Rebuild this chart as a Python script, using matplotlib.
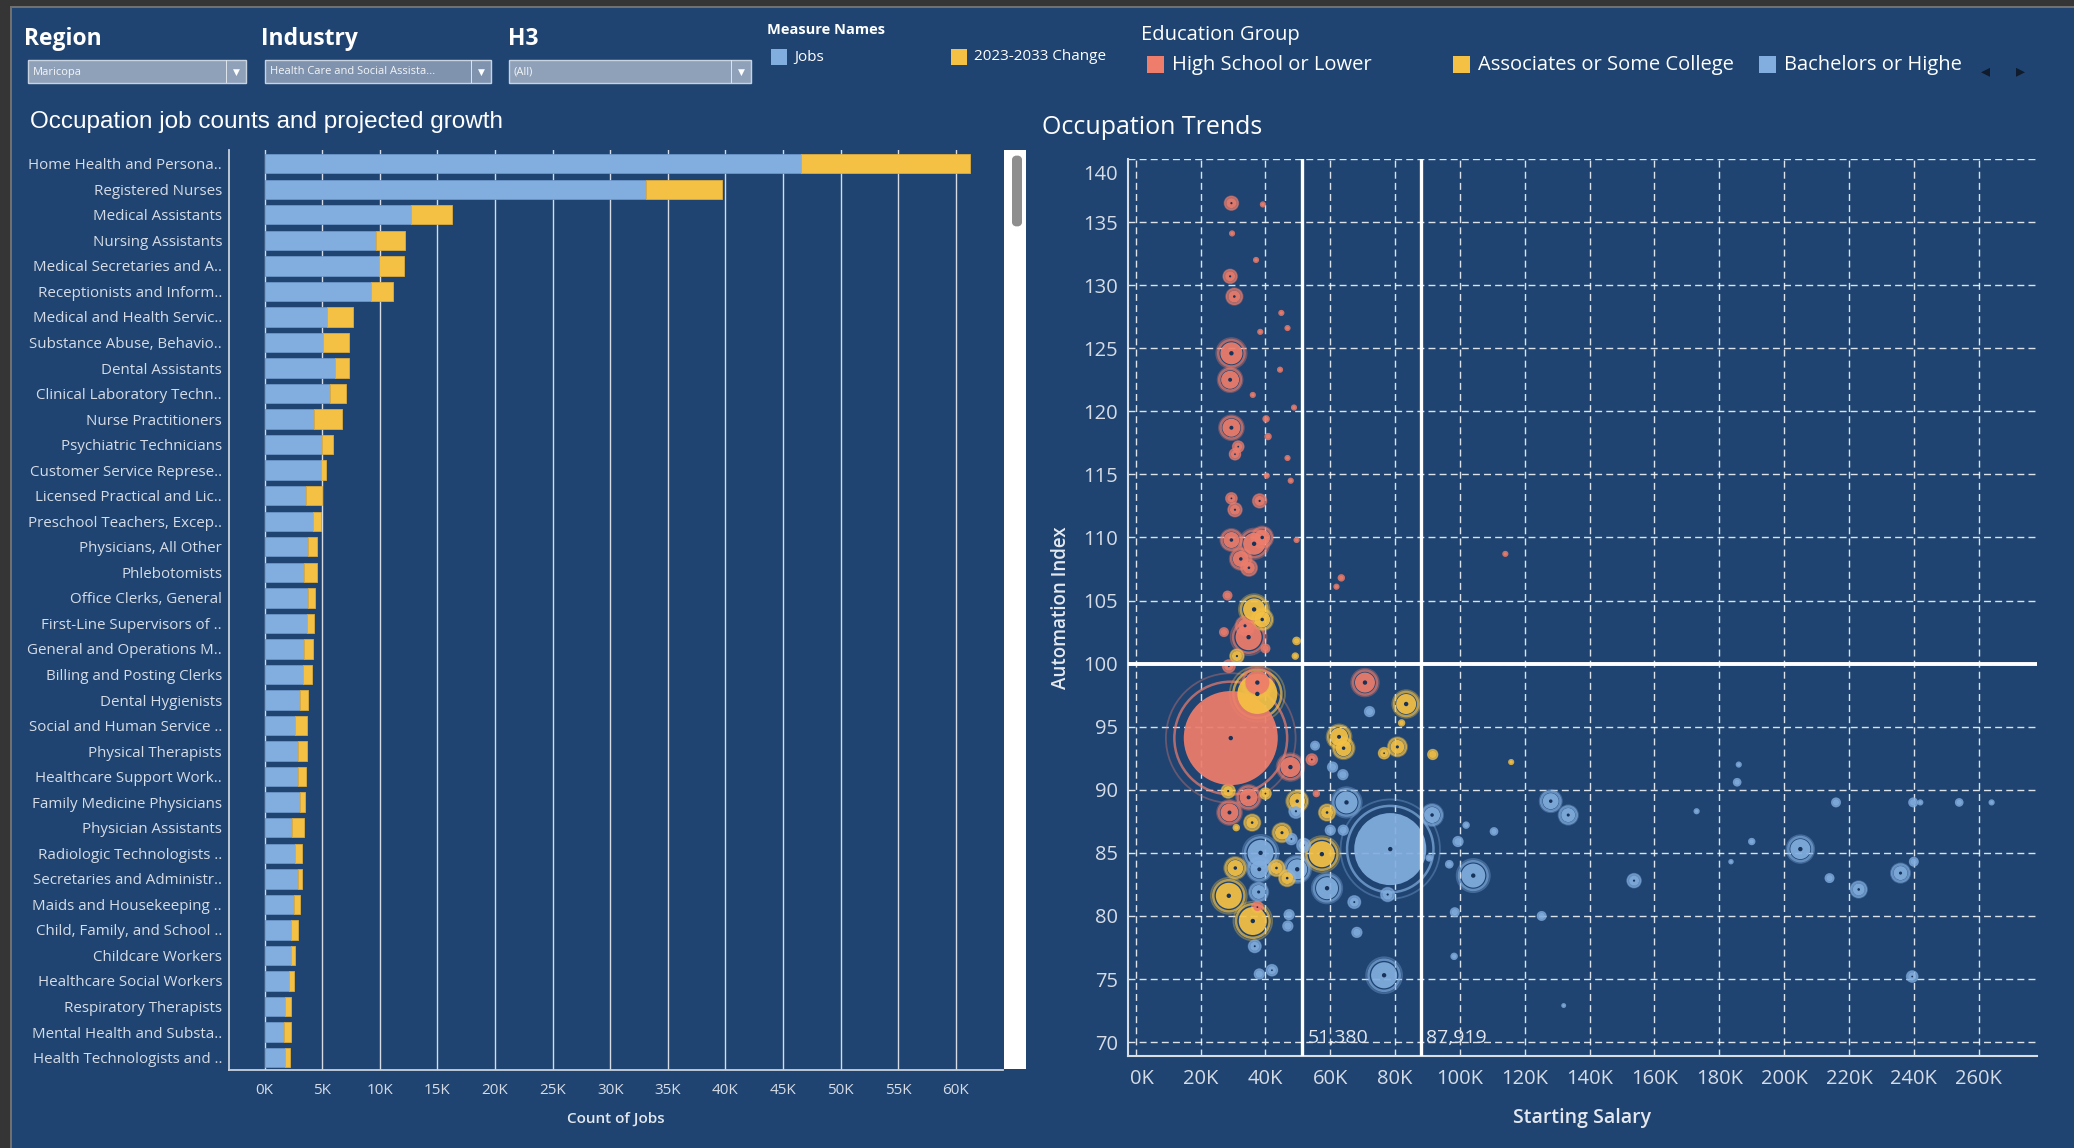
"""Occupation dashboard: job counts by occupation and automation vs salary."""

import matplotlib
matplotlib.use("Agg")
import matplotlib.pyplot as plt
import matplotlib.transforms as mtransforms
from matplotlib.patches import Rectangle, FancyBboxPatch
from matplotlib.ticker import FuncFormatter
import numpy as np


# ---------------------------------------------------------------------
# Data
# ---------------------------------------------------------------------
occupations = [
    "Home Health and Persona..", "Registered Nurses", "Medical Assistants",
    "Nursing Assistants", "Medical Secretaries and A..", "Receptionists and Inform..",
    "Medical and Health Servic..", "Substance Abuse, Behavio..", "Dental Assistants",
    "Clinical Laboratory Techn..", "Nurse Practitioners", "Psychiatric Technicians",
    "Customer Service Represe..", "Licensed Practical and Lic..", "Preschool Teachers, Excep..",
    "Physicians, All Other", "Phlebotomists", "Office Clerks, General",
    "First-Line Supervisors of ..", "General and Operations M..", "Billing and Posting Clerks",
    "Dental Hygienists", "Social and Human Service ..", "Physical Therapists",
    "Healthcare Support Work..", "Family Medicine Physicians", "Physician Assistants",
    "Radiologic Technologists ..", "Secretaries and Administr..", "Maids and Housekeeping ..",
    "Child, Family, and School ..", "Childcare Workers", "Healthcare Social Workers",
    "Respiratory Therapists", "Mental Health and Substa..", "Health Technologists and ..",
]
jobs = [
    46600, 33100, 12700, 9700, 9900, 9200, 5400, 5100, 6100, 5700, 4300, 5000,
    4900, 3600, 4200, 3800, 3400, 3800, 3700, 3400, 3300, 3100, 2600, 2900,
    2900, 3100, 2400, 2600, 2900, 2500, 2300, 2300, 2100, 1800, 1700, 1800,
]
change_2023_2033 = [
    14600, 6600, 3600, 2500, 2200, 1900, 2300, 2200, 1200, 1400, 2400, 900,
    400, 1400, 700, 700, 1100, 600, 600, 800, 800, 700, 1100, 800,
    700, 400, 1000, 600, 300, 600, 600, 300, 400, 500, 600, 400,
]

# Occupation Trends: starting salary, automation index, bubble size
hs_salary = [29300, 34800, 47700, 70700, 34800, 28900, 28700, 54300, 37500, 37500,
             29500, 29100, 30400, 29500, 29100, 29500, 31600, 30600, 29500, 38200,
             30600, 29500, 36500, 39000, 32400, 34900, 28300, 33700, 27200, 40000,
             55700, 39200, 29700, 37100, 44900, 46800, 38400, 44500, 36100, 48800,
             40200, 40800, 46800, 47800, 40400, 63400, 61900, 49600, 114000]
hs_index = [94.1, 102.1, 91.8, 98.5, 89.4, 88.2, 99.8, 92.4, 80.7, 98.5,
            136.5, 130.7, 129.1, 124.6, 122.5, 118.7, 117.2, 116.6, 113.1, 112.9,
            112.2, 109.8, 109.5, 110.0, 108.3, 107.6, 105.4, 103.0, 102.5, 101.2,
            89.7, 136.4, 134.1, 132.0, 127.8, 126.6, 126.3, 123.3, 121.3, 120.3,
            119.4, 118.0, 116.3, 114.5, 114.9, 106.8, 106.1, 109.8, 108.7]
hs_size = [47, 13, 10, 10, 9, 9, 4.5, 4, 4, 12,
           5, 5, 6, 11, 9, 9, 4, 4, 4, 5,
           5, 8, 11, 8, 8, 6, 3, 7, 3, 3,
           2, 1.5, 1.5, 1.5, 1.5, 1.5, 1.5, 1.5, 1.5, 1.5,
           2, 2, 1.5, 1.5, 1.5, 2, 1.5, 1.5, 1.5]

as_salary = [36500, 39000, 37500, 83400, 62700, 64100, 80700, 76600, 91600, 82000,
             115800, 49800, 28500, 40000, 59000, 35900, 45100, 57400, 30700, 43400,
             46700, 28700, 36100, 31200, 49600, 49200, 31000]
as_index = [104.3, 103.5, 97.6, 96.8, 94.2, 93.3, 93.4, 92.9, 92.8, 95.3,
            92.2, 89.1, 89.9, 89.7, 88.2, 87.4, 86.6, 84.9, 83.8, 83.8,
            83.0, 81.6, 79.6, 100.6, 101.8, 100.6, 87.0]
as_size = [11, 8, 20, 10, 9, 8, 7, 4, 3.5, 2,
           1.5, 8, 5, 4, 6, 6, 7, 13, 8, 6,
           6, 13, 14, 5, 2.5, 2, 2]

ba_salary = [78500, 38500, 65000, 91400, 104100, 59000, 76600, 128000, 133400, 205000,
             235900, 223000, 214000, 153700, 185500, 186000, 216000, 239800, 242000, 254000,
             264000, 240000, 239500, 190000, 173000, 183600, 125200, 110500, 99400, 96700,
             98400, 98200, 68200, 67400, 77700, 72100, 63900, 60700, 55300, 49400,
             49800, 37900, 38100, 47300, 46900, 36700, 38100, 42000, 48000, 51800,
             60000, 64000, 132000, 101900, 90500]
ba_index = [85.3, 85.0, 89.0, 88.0, 83.2, 82.2, 75.3, 89.1, 88.0, 85.3,
            83.4, 82.1, 83.0, 82.8, 90.6, 92.0, 89.0, 89.0, 89.0, 89.0,
            89.0, 84.3, 75.2, 85.9, 88.3, 84.3, 80.0, 86.7, 85.9, 84.1,
            80.3, 76.8, 78.7, 81.1, 81.7, 96.2, 91.2, 91.8, 93.5, 88.3,
            83.7, 81.9, 83.7, 80.1, 79.2, 77.6, 75.4, 75.7, 86.1, 85.6,
            86.8, 86.8, 72.9, 87.2, 84.6]
ba_size = [36, 13, 11, 8, 12, 11, 13, 8, 7, 10,
           7, 6, 3, 5, 2.5, 1.5, 3, 3, 1.5, 2.5,
           1.5, 3, 4, 2, 1.5, 1.2, 3, 2.5, 3.5, 2.5,
           3, 2, 3.5, 4.5, 5, 3.5, 3.5, 3.5, 3, 5,
           10, 7, 9, 3.5, 3.5, 4.5, 3.5, 4, 4, 5,
           3.5, 3.5, 1, 2, 2]

ref_salaries = [51380, 87919]
ref_index = 100


# ---------------------------------------------------------------------
# Style
# ---------------------------------------------------------------------
W, H = 2074, 1148
NAVY = "#1F4472"
BLUE = "#82AEDF"
GOLD = "#F5C144"
PINK = "#EE7D6B"
TICK = "#D6DCE5"
WHITE = "#FFFFFF"

plt.rcParams.update(
    {
        "font.family": ["Open Sans", "DejaVu Sans"],
        "font.size": 10,
        "axes.linewidth": 1.0,
    }
)


def fx(px):
    return px / W


def fy(py):
    return 1 - py / H


def px_rect(x0, y0, x1, y1, **kw):
    fig.add_artist(
        Rectangle((fx(x0), fy(y1)), fx(x1) - fx(x0), fy(y0) - fy(y1),
                  transform=fig.transFigure, **kw)
    )


fig = plt.figure(figsize=(W / 100, H / 100), dpi=100, facecolor=NAVY)

# dashboard frame
px_rect(0, 0, W, 6, facecolor="#353535", edgecolor="none")
px_rect(0, 6, W, 8, facecolor="#707070", edgecolor="none")
px_rect(0, 0, 10, H, facecolor="#353535", edgecolor="none")
px_rect(10, 6, 11.5, H, facecolor="#707070", edgecolor="none")


# ---------------------------------------------------------------------
# Filters and legends
# ---------------------------------------------------------------------
filters = [
    ("Region", 24, 28, 246, "Maricopa", "#8FA1B9"),
    ("Industry", 261, 265, 491, "Health Care and Social Assista...", "#7F93AF"),
    ("H3", 508, 509, 751, "(All)", "#8FA1B9"),
]
for title, tx, x0, x1, value, fill in filters:
    fig.text(fx(tx), fy(39), title, color=WHITE, fontsize=16.5,
             fontweight="bold", ha="left", va="center")
    px_rect(x0, 60, x1, 83, facecolor=fill, edgecolor="#C9D3DF", linewidth=1)
    px_rect(x1 - 20, 60, x1 - 19, 83, facecolor="#DDE3EA", edgecolor="none")
    fig.text(fx(x0 + 5), fy(72), value, color="#F2F5F8", fontsize=8,
             ha="left", va="center")
    fig.text(fx(x1 - 10), fy(72), "▼", color=WHITE, fontsize=6.5,
             ha="center", va="center")

fig.text(fx(767), fy(30), "Measure Names", color=WHITE, fontsize=10.5,
         fontweight="bold", ha="left", va="center")
px_rect(771, 49, 787, 65, facecolor=BLUE, edgecolor="none")
fig.text(fx(794), fy(57), "Jobs", color=WHITE, fontsize=11, ha="left", va="center")
px_rect(951, 49, 967, 65, facecolor=GOLD, edgecolor="none")
fig.text(fx(974), fy(57), "2023-2033 Change", color=WHITE, fontsize=11,
         ha="left", va="center")

fig.text(fx(1141), fy(35), "Education Group", color=WHITE, fontsize=14.5,
         ha="left", va="center")
edu_items = [
    ("High School or Lower", 1147, PINK),
    ("Associates or Some College", 1453, GOLD),
    ("Bachelors or Highe", 1759, BLUE),
]
for label, sx, col in edu_items:
    px_rect(sx, 56, sx + 17, 73, facecolor=col, edgecolor="none")
    fig.text(fx(sx + 25), fy(65), label, color=WHITE, fontsize=14.5,
             ha="left", va="center")
fig.text(fx(1985), fy(71), "◂", color="#101B2B", fontsize=13, ha="center", va="center")
fig.text(fx(2020), fy(71), "▸", color="#101B2B", fontsize=13, ha="center", va="center")

fig.text(fx(30), fy(122), "Occupation job counts and projected growth",
         color=WHITE, fontsize=17.5, family=["Liberation Sans", "DejaVu Sans"],
         ha="left", va="center")
fig.text(fx(1042), fy(127), "Occupation Trends", color=WHITE, fontsize=18,
         ha="left", va="center")


# ---------------------------------------------------------------------
# Bar chart
# ---------------------------------------------------------------------
axb = fig.add_axes([fx(229), fy(1069.6), fx(1003) - fx(229), fy(150) - fy(1069.6)])
axb.set_facecolor(NAVY)

rows = np.arange(len(occupations))
axb.barh(rows, jobs, height=0.76, color=BLUE, edgecolor="#6C96C9",
         linewidth=0.6, zorder=3)
axb.barh(rows, change_2023_2033, left=jobs, height=0.76, color=GOLD,
         edgecolor="#DCAB3E", linewidth=0.6, zorder=3)

axb.set_xlim(-3100, 64100)
axb.set_ylim(len(occupations) - 1 + 0.47, -0.536)
axb.set_xticks(np.arange(0, 60001, 5000))
axb.xaxis.set_major_formatter(FuncFormatter(lambda v, p: f"{v / 1000:.0f}K"))
axb.set_yticks(rows, occupations)
axb.grid(axis="x", color="#D5DCE6", linewidth=1.0, zorder=0)
axb.set_axisbelow(True)

for side in ["top", "right"]:
    axb.spines[side].set_visible(False)
for side in ["left", "bottom"]:
    axb.spines[side].set_color("#C9D1DC")
    axb.spines[side].set_linewidth(1.3)

axb.tick_params(axis="both", length=0, colors=TICK)
axb.tick_params(axis="y", labelsize=10.9, pad=5)
axb.tick_params(axis="x", labelsize=11, pad=9.5)

fig.text(fx(616), fy(1119), "Count of Jobs", color="#E4E8EE", fontsize=11,
         fontweight="semibold", ha="center", va="center")

# scrollbar
px_rect(1004, 150, 1026, 1069, facecolor="#FFFFFF", edgecolor="none")
fig.add_artist(
    FancyBboxPatch((fx(1012), fy(227)), fx(1022) - fx(1012), fy(155) - fy(227),
                   boxstyle="round,pad=0,rounding_size=0.004",
                   transform=fig.transFigure, facecolor="#8E8E8E",
                   edgecolor="none")
)


# ---------------------------------------------------------------------
# Scatter: Occupation Trends
# ---------------------------------------------------------------------
axs = fig.add_axes([fx(1128), fy(1056), fx(2037) - fx(1128), fy(159) - fy(1056)])
axs.set_facecolor(NAVY)
axs.set_xlim(-2400, 278000)
axs.set_ylim(68.9, 140)
axs.set_xticks(np.arange(0, 260001, 20000))
axs.set_yticks(np.arange(70, 141, 5))
axs.xaxis.set_major_formatter(FuncFormatter(lambda v, p: f"{v / 1000:.0f}K"))
axs.grid(True, color=WHITE, linestyle=(0, (5, 3)), linewidth=1.0, alpha=0.85, zorder=0)
axs.set_axisbelow(True)

for side in ["top", "right"]:
    axs.spines[side].set_visible(False)
for side in ["left", "bottom"]:
    axs.spines[side].set_color("#D8DEE6")
    axs.spines[side].set_linewidth(1.5)

axs.tick_params(axis="both", length=0, colors=TICK, labelsize=14.5)
axs.tick_params(axis="y", pad=7)
axs.tick_params(axis="x", pad=9)

# top y label and first x label sit inside the frame, like the dashboard
ylabels = axs.get_yticklabels()
ylabels[-1].set_transform(
    ylabels[-1].get_transform()
    + mtransforms.ScaledTranslation(0, -0.13, fig.dpi_scale_trans)
)
xlabels = axs.get_xticklabels()
xlabels[0].set_transform(
    xlabels[0].get_transform()
    + mtransforms.ScaledTranslation(0.06, 0, fig.dpi_scale_trans)
)

groups = [
    (as_salary, as_index, as_size, GOLD),
    (hs_salary, hs_index, hs_size, PINK),
    (ba_salary, ba_index, ba_size, BLUE),
]
xs, ys, rs, cs = [], [], [], []
for sal, idx, size, col in groups:
    xs += sal
    ys += idx
    rs += size
    cs += [col] * len(sal)
order = np.argsort(-np.array(rs), kind="stable")
xs = np.array(xs)[order]
ys = np.array(ys)[order]
rs = np.array(rs, dtype=float)[order]
cs = [cs[i] for i in order]

pt = 0.72  # points per pixel at 100 dpi
axs.scatter(xs, ys, s=(2 * 1.38 * rs * pt) ** 2, facecolors="none",
            edgecolors=cs, linewidths=1.3, alpha=0.35, zorder=2)
axs.scatter(xs, ys, s=(2 * 1.2 * rs * pt) ** 2, facecolors="none",
            edgecolors=cs, linewidths=1.8, alpha=0.7, zorder=2)
axs.scatter(xs, ys, s=(2 * rs * pt) ** 2, c=cs, alpha=0.93,
            edgecolors="none", zorder=3)
dot_r = np.clip(rs * 0.22, 0.6, 2.2)
big = rs >= 4
axs.scatter(xs[big], ys[big], s=(2 * dot_r[big] * pt) ** 2, c="#17335A",
            edgecolors="none", zorder=4)

for sal in ref_salaries:
    axs.axvline(sal, color=WHITE, linewidth=2.4, zorder=6)
    axs.annotate(f"{sal:,}", (sal, 70.3), xytext=(4, 0), textcoords="offset points",
                 color="#E2E6EC", fontsize=14, ha="left", va="center", zorder=7)
axs.axhline(ref_index, color=WHITE, linewidth=2.8, zorder=6)

fig.text(fx(1582), fy(1118), "Starting Salary", color="#E4E8EE", fontsize=14,
         fontweight="semibold", ha="center", va="center")
fig.text(fx(1061), fy(608), "Automation Index", color="#E4E8EE", fontsize=13.5,
         fontweight="semibold", rotation=90, ha="center", va="center")

fig.savefig("out.png", dpi=100, facecolor=NAVY)
plt.close(fig)
